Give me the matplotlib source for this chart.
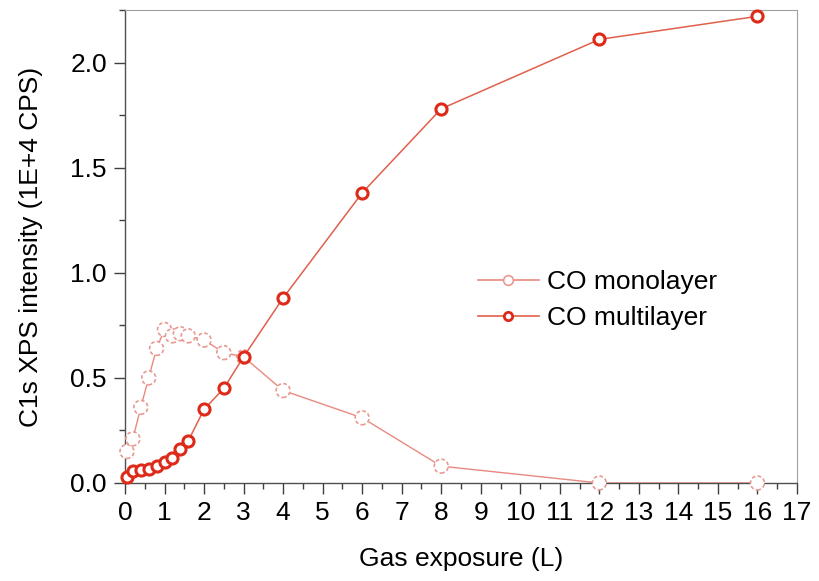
import matplotlib.pyplot as plt
from matplotlib.ticker import MultipleLocator
from matplotlib.lines import Line2D

plt.rcParams['font.family'] = ['Liberation Sans', 'DejaVu Sans']

# CO monolayer (open, light markers)
mono_x = [0.05, 0.2, 0.4, 0.6, 0.8, 1.0, 1.2, 1.4, 1.6, 2.0, 2.5, 3.0, 4, 6, 8, 12, 16]
mono_y = [0.15, 0.21, 0.36, 0.50, 0.64, 0.73, 0.70, 0.71, 0.70, 0.68, 0.62, 0.60, 0.44, 0.31, 0.08, 0.0, 0.0]

# CO multilayer
multi_x = [0.05, 0.2, 0.4, 0.6, 0.8, 1.0, 1.2, 1.4, 1.6, 2.0, 2.5, 3.0, 4, 6, 8, 12, 16]
multi_y = [0.03, 0.055, 0.06, 0.065, 0.08, 0.10, 0.12, 0.16, 0.20, 0.35, 0.45, 0.60, 0.88, 1.38, 1.78, 2.11, 2.22]

mono_line = '#e88a80'
mono_edge = '#e89a92'
multi_line = '#e0604c'
multi_edge = '#de2a18'

fig = plt.figure(figsize=(8.19, 5.81), dpi=100)
ax = fig.add_axes([0.1526, 0.1687, 0.8205, 0.8141])

# monolayer: thin line + dashed-edge open circles
ax.plot(mono_x, mono_y, color=mono_line, lw=1.0, zorder=2)
ax.scatter(mono_x, mono_y, s=100, facecolors='white', edgecolors=mono_edge,
           linewidths=1.2, linestyles=(0, (2.2, 1.4)), zorder=3, clip_on=False)

ax.plot(multi_x, multi_y, color=multi_line, lw=1.1, marker='o', ms=8,
        mfc='white', mec=multi_edge, mew=2.2, zorder=4, clip_on=False)

ax.set_xlim(0, 17)
ax.set_ylim(0, 2.25)
ax.xaxis.set_major_locator(MultipleLocator(1))
ax.xaxis.set_minor_locator(MultipleLocator(0.5))
ax.yaxis.set_major_locator(MultipleLocator(0.5))
ax.yaxis.set_minor_locator(MultipleLocator(0.25))
ax.yaxis.set_major_formatter(plt.FormatStrFormatter('%.1f'))

for s in ['top', 'right']:
    ax.spines[s].set_color('#a0a0a0')
for s in ['left', 'bottom']:
    ax.spines[s].set_color('#505050')
    ax.spines[s].set_linewidth(1.0)

ax.tick_params(which='major', direction='out', length=8, width=1, color='#404040',
               labelsize=19, pad=5)
ax.tick_params(which='minor', direction='out', length=4.5, width=1, color='#404040')

ax.set_xlabel('Gas exposure (L)', fontsize=19, labelpad=16)
ax.set_ylabel('C1s XPS intensity (1E+4 CPS)', fontsize=19, labelpad=20)

handles = [
    Line2D([], [], color=mono_line, lw=1.2, marker='o', ms=7, mfc='white',
           mec=mono_edge, mew=1.2),
    Line2D([], [], color=multi_line, lw=1.2, marker='o', ms=6, mfc='white',
           mec=multi_edge, mew=2.0),
]
ax.legend(handles, ['CO monolayer', 'CO multilayer'], loc='center left',
          bbox_to_anchor=(0.49, 0.387), frameon=False, fontsize=19,
          handlelength=2.3, handletextpad=0.3, labelspacing=0.45)

fig.savefig('out.png', dpi=100)
